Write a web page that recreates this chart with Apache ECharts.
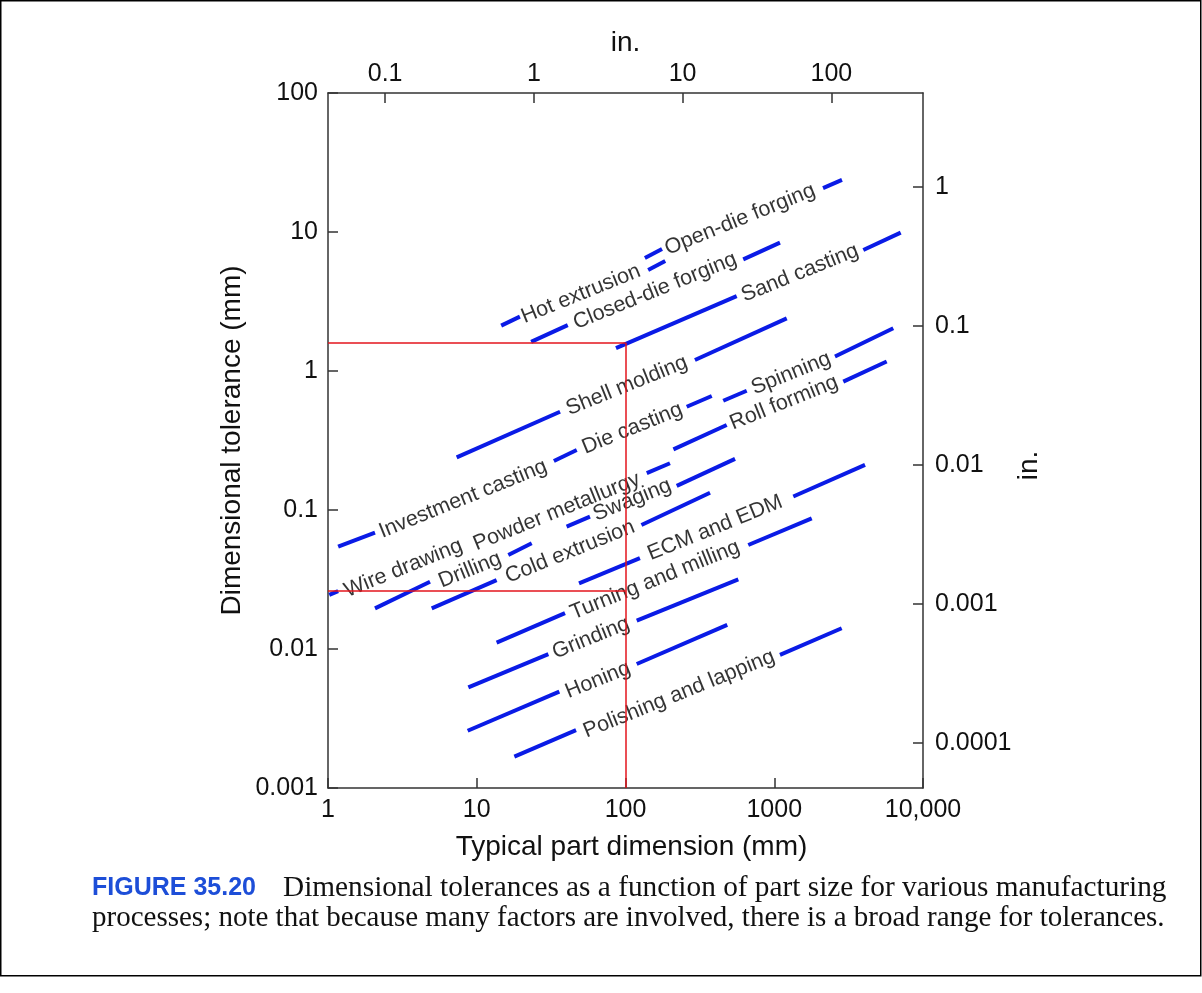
<!DOCTYPE html>
<html>
<head>
<meta charset="utf-8">
<title>Dimensional tolerances vs part size</title>
<script src="https://cdn.jsdelivr.net/npm/echarts@6.0.0/dist/echarts.min.js"></script>
<style>
  html, body { margin: 0; padding: 0; background: #fff; }
  #main { width: 1202px; height: 993px; }
</style>
</head>
<body>
<div id="main"></div>
<script>
var processNames = [
  'Hot extrusion', 'Open-die forging', 'Closed-die forging', 'Sand casting',
  'Shell molding', 'Investment casting', 'Die casting', 'Spinning',
  'Roll forming', 'Wire drawing', 'Powder metallurgy', 'Swaging',
  'Drilling', 'Cold extrusion', 'ECM and EDM', 'Turning and milling',
  'Grinding', 'Honing', 'Polishing and lapping'
];

// blue line before the label: [size1, tol1, size2, tol2] in mm
var leftSegs = [
  [14.6, 2.12, 19.5, 2.46],
  [135, 6.5, 176, 7.54],
  [23.2, 1.62, 40.9, 2.14],
  [86.3, 1.46, 559, 3.46],
  [7.33, 0.239, 36.3, 0.509],
  [1.17, 0.0545, 2.07, 0.0687],
  [33, 0.225, 47, 0.27],
  [454, 0.611, 653, 0.721],
  [210, 0.273, 479, 0.409],
  [1.02, 0.0245, 1.17, 0.0261],
  null,
  [40.2, 0.0759, 57.7, 0.0895],
  [2.07, 0.0196, 4.85, 0.0305],
  [4.98, 0.0196, 13.6, 0.0313],
  [48.7, 0.0297, 125, 0.045],
  [13.6, 0.0111, 39.2, 0.0181],
  [8.78, 0.0053, 30.3, 0.0092],
  [8.69, 0.00258, 35.9, 0.00493],
  [17.9, 0.00168, 46.5, 0.00261]
];

// blue line after the label
var rightSegs = [
  [142, 5.33, 185, 6.18],
  [2128, 20.7, 2853, 23.7],
  [619, 6.36, 1093, 8.38],
  [3970, 7.42, 7080, 9.89],
  [293, 1.2, 1213, 2.39],
  null,
  [258, 0.553, 380, 0.661],
  [2560, 1.27, 6310, 2.03],
  [2912, 0.838, 5700, 1.17],
  null,
  [139, 0.184, 199, 0.217],
  [221, 0.149, 545, 0.233],
  [16.3, 0.0475, 23.4, 0.0576],
  [128, 0.078, 370, 0.133],
  [1343, 0.125, 4075, 0.211],
  [669, 0.056, 1786, 0.0871],
  [119, 0.016, 573, 0.0317],
  [119, 0.0078, 483, 0.0149],
  [1093, 0.00906, 2840, 0.0141]
];

// where each label sits (centre), [size, tol]
var labelPos = [
  [50.2, 3.58], [589, 12.3], [158, 3.76], [1490, 5.07],
  [102, 0.785], [8.09, 0.12], [111, 0.386], [1297, 0.961],
  [1164, 0.591], [3.21, 0.0381], [34.5, 0.0972], [111, 0.118],
  [9.01, 0.037], [42.4, 0.0501], [400, 0.0743], [158, 0.0313],
  [58.6, 0.012], [65.3, 0.00598], [229, 0.00474]
];

// red reading lines drawn over the chart
var guideLines = [
  [1, 1.6, 100, 1.6],
  [100, 1.6, 100, 0.001],
  [1, 0.0262, 100, 0.0262]
];

// inch scale ticks
var inchTopTicks = [0.1, 1, 10, 100];
var inchRightTicks = [1, 0.1, 0.01, 0.001, 0.0001];

var FONT = '"Liberation Sans", Arial, Helvetica, sans-serif';

function fmt(v) {
  if (v >= 9999) return '10,000';
  return String(+(+v).toPrecision(4));
}

function toCoords(list) {
  var out = [];
  for (var i = 0; i < list.length; i++) {
    var s = list[i];
    if (!s) continue;
    out.push({ coords: [[s[0], s[1]], [s[2], s[3]]] });
  }
  return out;
}

var blueData = toCoords(leftSegs).concat(toCoords(rightSegs));
var labelData = [];
for (var i = 0; i < processNames.length; i++) {
  labelData.push({ name: processNames[i], value: labelPos[i] });
}

var axisLineStyle = { color: '#333', width: 1.5 };
var tickLabel = { fontSize: 25, color: '#111', fontFamily: FONT, formatter: fmt };
var nameStyle = { fontSize: 28, color: '#111', fontFamily: FONT };

var chart = echarts.init(document.getElementById('main'), null, { renderer: 'canvas' });

var option = {
  backgroundColor: '#fff',
  animation: false,
  grid: { left: 328, top: 93, right: 279, bottom: 205 },
  xAxis: [
    {
      type: 'log', logBase: 10, min: 1, max: 10000, position: 'bottom',
      axisLine: { show: true, onZero: false, lineStyle: axisLineStyle },
      axisTick: { show: true, inside: true, length: 10, lineStyle: axisLineStyle },
      axisLabel: echarts.util.extend({ margin: 10 }, tickLabel),
      splitLine: { show: false },
      name: 'Typical part dimension (mm)', nameLocation: 'middle', nameGap: 45,
      nameTextStyle: echarts.util.extend({ padding: [0, 0, 0, 12] }, nameStyle)
    },
    {
      type: 'log', logBase: 10,
      min: Math.pow(10, -1.384), max: Math.pow(10, 2.616), position: 'top',
      axisLine: { show: true, onZero: false, lineStyle: axisLineStyle },
      axisTick: { show: true, inside: true, length: 10, lineStyle: axisLineStyle, customValues: inchTopTicks },
      axisLabel: echarts.util.extend({ margin: 6, customValues: inchTopTicks }, tickLabel),
      splitLine: { show: false },
      name: 'in.', nameLocation: 'middle', nameGap: 32,
      nameTextStyle: nameStyle
    }
  ],
  yAxis: [
    {
      type: 'log', logBase: 10, min: 0.001, max: 100, position: 'left',
      axisLine: { show: true, onZero: false, lineStyle: axisLineStyle },
      axisTick: { show: true, inside: true, length: 10, lineStyle: axisLineStyle },
      axisLabel: echarts.util.extend({ margin: 10 }, tickLabel),
      splitLine: { show: false },
      name: 'Dimensional tolerance (mm)', nameLocation: 'middle', nameGap: 82, nameRotate: 90,
      nameTextStyle: nameStyle
    },
    {
      type: 'log', logBase: 10,
      min: Math.pow(10, -4.326), max: Math.pow(10, 0.674), position: 'right',
      axisLine: { show: true, onZero: false, lineStyle: axisLineStyle },
      axisTick: { show: true, inside: true, length: 10, lineStyle: axisLineStyle, customValues: inchRightTicks },
      axisLabel: echarts.util.extend({ margin: 12, customValues: inchRightTicks }, tickLabel),
      splitLine: { show: false },
      name: 'in.', nameLocation: 'middle', nameGap: 82, nameRotate: 90,
      // shift the rotated name a little further down, as in the figure
      nameTextStyle: echarts.util.extend({ padding: [0, 50, 0, 0] }, nameStyle)
    }
  ],
  series: [
    {
      type: 'lines', coordinateSystem: 'cartesian2d', xAxisIndex: 0, yAxisIndex: 0,
      silent: true, symbol: 'none',
      lineStyle: { color: '#0a1be6', width: 4, opacity: 1, curveness: 0 },
      data: blueData, z: 3
    },
    {
      type: 'scatter', xAxisIndex: 0, yAxisIndex: 0, silent: true,
      symbolSize: 1, itemStyle: { color: 'transparent' },
      label: {
        show: true, position: 'inside', formatter: '{b}', rotate: 22,
        fontSize: 21.5, color: '#000', fontFamily: FONT,
        textBorderWidth: 0
      },
      data: labelData, z: 4
    },
    {
      type: 'lines', coordinateSystem: 'cartesian2d', xAxisIndex: 0, yAxisIndex: 0,
      silent: true, symbol: 'none',
      lineStyle: { color: '#e3141c', width: 1.5, opacity: 1, curveness: 0 },
      data: toCoords(guideLines), z: 6
    }
  ],
  graphic: [
    {
      type: 'rect', silent: true,
      shape: { x: 0.75, y: 0.75, width: 1200, height: 975 },
      style: { fill: 'none', stroke: '#000', lineWidth: 1.5 }
    },
    {
      type: 'text', x: 92, y: 888, silent: true,
      style: { text: 'FIGURE 35.20', font: 'bold 25px ' + FONT, fill: '#1d4ed8', verticalAlign: 'middle' }
    },
    {
      type: 'text', x: 283, y: 888, silent: true,
      style: {
        text: 'Dimensional tolerances as a function of part size for various manufacturing',
        font: '29.3px "Liberation Serif", "Times New Roman", serif', fill: '#111', verticalAlign: 'middle'
      }
    },
    {
      type: 'text', x: 92, y: 918, silent: true,
      style: {
        text: 'processes; note that because many factors are involved, there is a broad range for tolerances.',
        font: '29px "Liberation Serif", "Times New Roman", serif', fill: '#111', verticalAlign: 'middle'
      }
    }
  ]
};

chart.setOption(option);
</script>
</body>
</html>
